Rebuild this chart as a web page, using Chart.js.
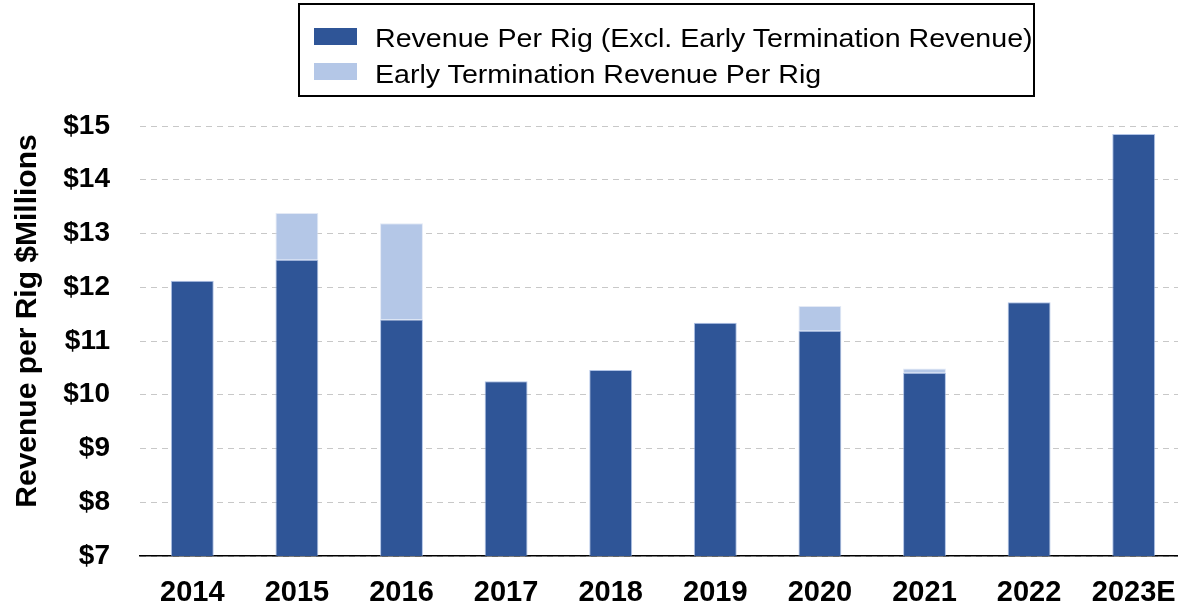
<!DOCTYPE html>
<html>
<head>
<meta charset="utf-8">
<script src="https://cdn.jsdelivr.net/npm/chart.js@4/dist/chart.umd.min.js"></script>
<style>
  html, body { margin: 0; padding: 0; background: #fff; overflow: hidden; }
  #wrap { position: relative; width: 1200px; height: 608px; }
  #legend {
    position: absolute; left: 298px; top: 3px; width: 733px; height: 90px;
    border: 2px solid #000; box-sizing: content-box;
    font-family: "Liberation Sans", Arial, sans-serif; font-size: 26px; color: #000;
  }
  .sw { position: absolute; left: 14px; width: 43px; height: 17px; }
  .txt { position: absolute; left: 75px; height: 30px; line-height: 30px; white-space: nowrap;
         transform: scaleX(1.1); transform-origin: left center; }
</style>
</head>
<body>
<div id="wrap">
  <canvas id="revRig" width="1200" height="608"></canvas>
  <div id="legend">
    <span class="sw" style="top:23px; background:#2F5597"></span>
    <span class="txt" style="top:18px">Revenue Per Rig (Excl. Early Termination Revenue)</span>
    <span class="sw" style="top:58px; background:#B4C7E7"></span>
    <span class="txt" style="top:54px">Early Termination Revenue Per Rig</span>
  </div>
</div>
<script>
var years = ['2014', '2015', '2016', '2017', '2018', '2019', '2020', '2021', '2022', '2023E'];
var baseRevenue = [12.12, 12.51, 11.40, 10.25, 10.46, 11.34, 11.19, 10.41, 11.72, 14.85];
var earlyTermination = [0, 0.87, 1.79, 0, 0, 0, 0.46, 0.08, 0, 0];
var yTicks = [7, 8, 9, 10, 11, 12, 13, 14, 15];
var yTitle = 'Revenue per Rig $Millions';

var font = "'Liberation Sans', Arial, sans-serif";
var ctx = document.getElementById('revRig').getContext('2d');

// y title sits a bit above the middle of the axis in the original
var yTitlePlugin = {
    id: 'yTitle',
    afterDraw: function (c) {
        var g = c.ctx;
        var mid = (c.chartArea.top + c.chartArea.bottom) / 2 - 20;
        g.save();
        g.translate(28, mid);
        g.rotate(-Math.PI / 2);
        g.font = 'bold 30px ' + font;
        g.fillStyle = '#000';
        g.textAlign = 'center';
        g.textBaseline = 'middle';
        g.fillText(yTitle, 0, 0);
        g.restore();
    }
};

var chart = new Chart(ctx, {
    type: 'bar',
    data: {
        labels: years,
        datasets: [{
            label: 'Revenue Per Rig (Excl. Early Termination Revenue)',
            data: baseRevenue,
            backgroundColor: '#2F5597',
            borderColor: 'rgba(143,170,220,0.7)',
            borderWidth: 1
        }, {
            label: 'Early Termination Revenue Per Rig',
            data: earlyTermination,
            backgroundColor: '#B4C7E7',
            borderColor: 'rgba(220,228,242,0.8)',
            borderWidth: 1
        }]
    },
    plugins: [yTitlePlugin],
    options: {
        responsive: false,
        animation: false,
        layout: {
            padding: { top: 126, right: 14, left: 10, bottom: 0 }
        },
        plugins: {
            legend: { display: false },
            tooltip: { enabled: false }
        },
        datasets: {
            bar: { categoryPercentage: 1, barPercentage: 0.41 }
        },
        scales: {
            x: {
                stacked: true,
                grid: { display: false, drawTicks: false },
                border: { color: '#000', width: 1.5 },
                afterFit: function (axis) { axis.height = 52; },
                ticks: {
                    color: '#000',
                    padding: 20,
                    font: { family: font, size: 29, weight: 'bold' }
                }
            },
            y: {
                stacked: true,
                min: 7,
                max: 15,
                afterBuildTicks: function (axis) {
                    axis.ticks = yTicks.map(function (v) { return { value: v }; });
                },
                afterFit: function (axis) { axis.width = 130; },
                grid: { color: '#c8c8c8', lineWidth: 1, drawTicks: false },
                border: { display: false, dash: [6, 5] },
                ticks: {
                    color: '#000',
                    padding: 30,
                    font: { family: font, size: 28, weight: 'bold' },
                    callback: function (v) { return '$' + v; }
                }
            }
        }
    }
});
</script>
</body>
</html>
